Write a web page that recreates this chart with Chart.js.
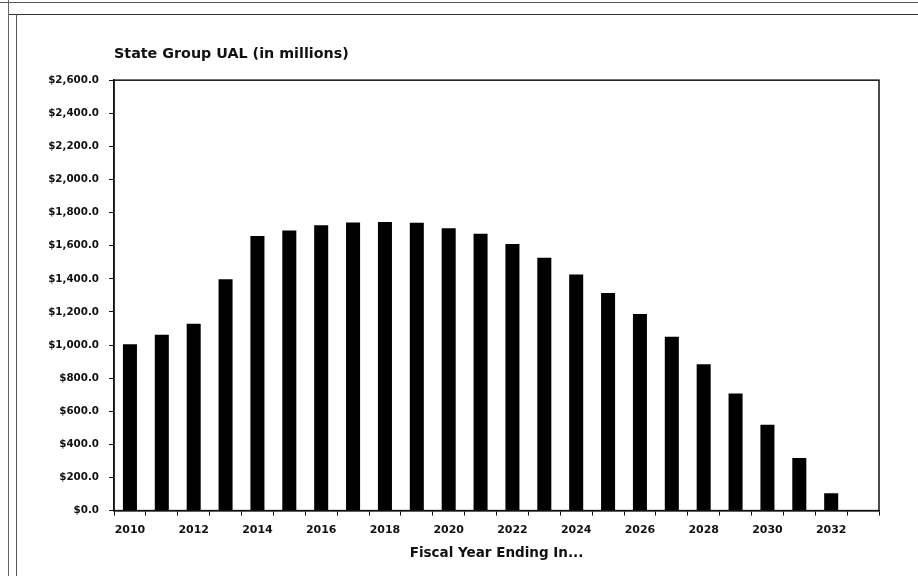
<!DOCTYPE html>
<html>
<head>
<meta charset="utf-8">
<script src="https://cdn.jsdelivr.net/npm/chart.js@4.4.1/dist/chart.umd.min.js"></script>
<style>
  html, body { margin: 0; padding: 0; background: #fff; }
  #wrap { position: relative; width: 918px; height: 576px; overflow: hidden; }
  canvas { position: absolute; left: 0; top: 0; }
  .ln { position: absolute; background: #444; }
</style>
</head>
<body>
<div id="wrap">
  <canvas id="c" width="918" height="576"></canvas>
  <div class="ln" style="left:0;top:2px;width:918px;height:1px;background:#555"></div>
  <div class="ln" style="left:8px;top:14px;width:910px;height:1px;background:#333"></div>
  <div class="ln" style="left:8px;top:0;width:1px;height:576px;background:#666"></div>
  <div class="ln" style="left:16px;top:14px;width:1px;height:562px;background:#555"></div>
</div>
<script>
const years = ['2010','2011','2012','2013','2014','2015','2016','2017','2018','2019','2020','2021',
               '2022','2023','2024','2025','2026','2027','2028','2029','2030','2031','2032','2033'];
const ualValues = [1005, 1062, 1128, 1398, 1659, 1692, 1723, 1740, 1743, 1738, 1705, 1672,
                   1610, 1528, 1426, 1315, 1188, 1050, 884, 708, 518, 318, 105, null];
const xTickLabels = ['2010','','2012','','2014','','2016','','2018','','2020','',
                     '2022','','2024','','2026','','2028','','2030','','2032',''];
const yMin = 0, yMax = 2600, yStep = 200;

const FONT = "'DejaVu Sans', Arial, sans-serif";

const frame = {
  id: 'frame',
  afterDraw(chart) {
    const a = chart.chartArea, ctx = chart.ctx;
    ctx.save();
    ctx.strokeStyle = '#111';
    ctx.lineWidth = 1.5;
    ctx.strokeRect(a.left, a.top, a.right - a.left, a.bottom - a.top);
    ctx.restore();
  }
};

new Chart(document.getElementById('c'), {
  type: 'bar',
  data: {
    labels: years,
    datasets: [{
      data: ualValues,
      backgroundColor: '#000',
      borderWidth: 0,
      barPercentage: 0.44,
      categoryPercentage: 1.0
    }]
  },
  options: {
    responsive: false,
    animation: false,
    layout: { padding: { left: 0, right: 39, top: 46, bottom: 14 } },
    plugins: {
      legend: { display: false },
      tooltip: { enabled: false },
      title: {
        display: true,
        text: 'State Group UAL (in millions)',
        align: 'start',
        fullSize: false,
        color: '#111',
        font: { family: FONT, size: 14.3, weight: 'bold' },
        padding: { top: 0, bottom: 17 }
      }
    },
    scales: {
      x: {
        grid: { display: true, offset: true, drawOnChartArea: false, drawTicks: true, tickLength: 5, color: '#111', lineWidth: 1 },
        border: { display: true, color: '#111', width: 1.5 },
        ticks: {
          autoSkip: false, maxRotation: 0, padding: 8, color: '#111',
          font: { family: FONT, size: 11, weight: 'bold' },
          callback: (v, i) => xTickLabels[i]
        },
        title: {
          display: true, text: 'Fiscal Year Ending In...', color: '#111',
          font: { family: FONT, size: 13.5, weight: 'bold' },
          padding: { top: 1, bottom: 0 }
        }
      },
      y: {
        min: yMin, max: yMax,
        afterFit(s) { s.width = 114; },
        grid: { display: true, drawOnChartArea: false, drawTicks: true, tickLength: 5, color: '#111', lineWidth: 1 },
        border: { display: true, color: '#111', width: 1.5 },
        ticks: {
          stepSize: yStep, padding: 10, color: '#111',
          font: { family: FONT, size: 10.3, weight: 'bold' },
          callback: v => '$' + Number(v).toLocaleString('en-US', { minimumFractionDigits: 1, maximumFractionDigits: 1 })
        }
      }
    }
  },
  plugins: [frame]
});
</script>
</body>
</html>
